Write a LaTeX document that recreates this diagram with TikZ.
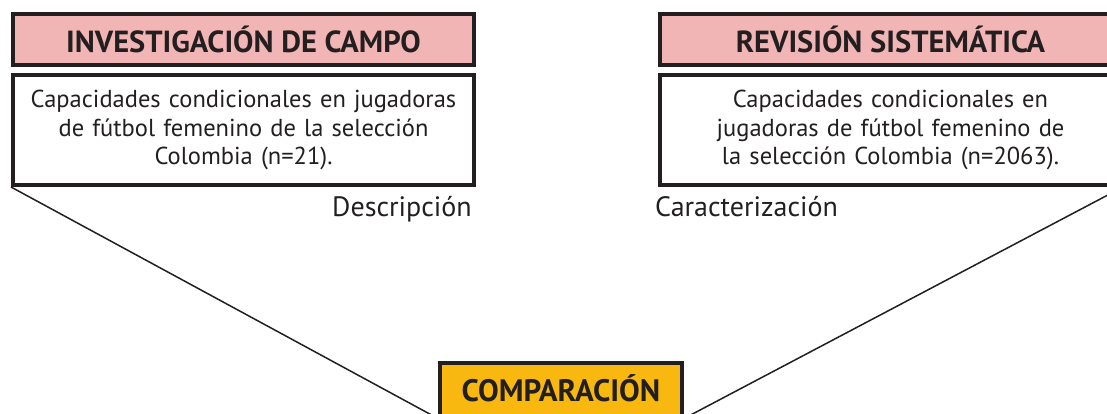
\documentclass[tikz,border=0pt]{standalone}
\usepackage{fontspec}
\setmainfont{PT Sans}
\definecolor{pinkfill}{HTML}{F2B5B5}
\definecolor{orangefill}{HTML}{F9B80F}
\definecolor{ink}{HTML}{231F20}
\begin{document}
\begin{tikzpicture}[x=1pt,y=-1pt,
  boxline/.style={draw=ink,line width=4pt},
  titlebox/.style={boxline,fill=pinkfill,minimum width=461pt,minimum height=51pt,inner sep=0pt,
    font=\fontsize{30.5}{34}\selectfont\bfseries,text=ink},
  textbox/.style={boxline,fill=white,minimum width=461pt,minimum height=110pt,inner sep=0pt,
    text width=440pt,align=center,font=\fontsize{24.5}{28.5}\selectfont,text=ink},
  sidelabel/.style={inner sep=0pt,font=\fontsize{28}{32}\selectfont,text=ink},
  connector/.style={draw=ink,line width=1.5pt}]
\useasboundingbox (0,0) rectangle (1107,414);
\clip (0,0) rectangle (1107,414);
\node[titlebox,anchor=north west] (title1) at (11,12) {INVESTIGACIÓN DE CAMPO};
\node[textbox,anchor=north west] (text1) at (11,73) {Capacidades condicionales en jugadoras\\de fútbol femenino de la selección\\Colombia (n=21).};
\node[sidelabel,anchor=base east] (desc) at (472,216) {Descripción};
\node[titlebox,anchor=north west] (title2) at (658,12) {REVISIÓN SISTEMÁTICA};
\node[textbox,anchor=north west] (text2) at (658,73) {Capacidades condicionales en\\jugadoras de fútbol femenino de\\la selección Colombia (n=2063).};
\node[sidelabel,anchor=base west] (caract) at (655,216) {Caracterización};
\node[boxline,fill=orangefill,anchor=north,minimum width=242pt,inner xsep=0pt,inner ysep=2pt,
  text height=36pt,text depth=71pt,font=\fontsize{31}{35}\selectfont\bfseries,text=ink] (comp) at (561,361) {COMPARACIÓN};
\draw[connector] (text1.south west) -- (comp.west);
\draw[connector] (text2.south east) -- (comp.east);
\end{tikzpicture}
\end{document}
